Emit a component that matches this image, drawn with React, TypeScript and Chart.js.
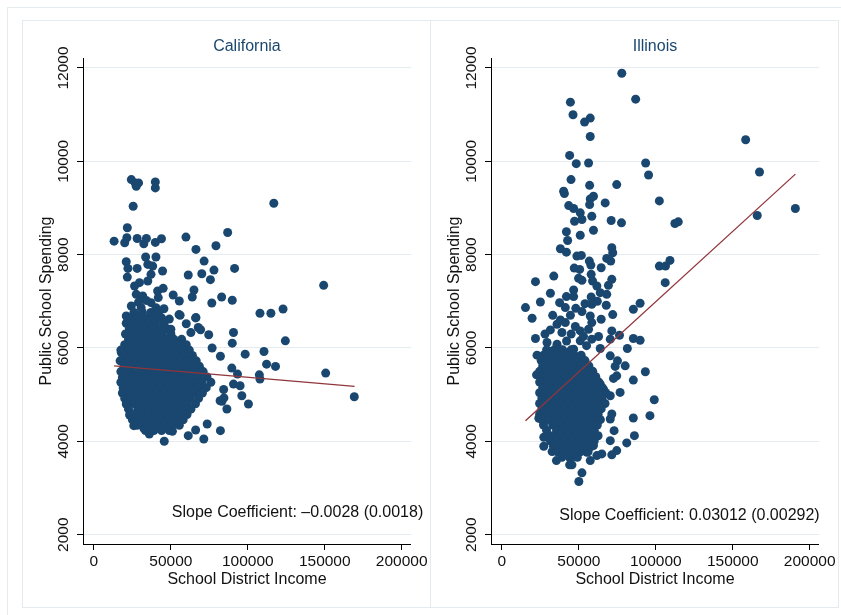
import React, { useEffect, useRef } from "react";
import { Chart, registerables } from "chart.js";

Chart.register(...registerables);

// ---------- data ----------
const xTicks = [0, 50000, 100000, 150000, 200000];
const yTicks = [2000, 4000, 6000, 8000, 10000, 12000];
const panelTitles = ["California", "Illinois"];
const slopeNotes = [
  "Slope Coefficient: \u20130.0028 (0.0018)",
  "Slope Coefficient: 0.03012 (0.00292)",
];
const xTitle = "School District Income";
const yTitle = "Public School Spending";

// income in thousands of dollars, spending in dollars
const caScattered: [number, number][] = [
  [24.3, 9608], [26.8, 9537], [29, 9537], [27.5, 9465], [39.9, 9559], [39.9, 9430], [25.5, 9037], [116.9, 9101],
  [21.7, 8576], [13.1, 8289], [20, 8255], [21.4, 8362], [28.1, 8347], [32.4, 8234], [34.1, 8347], [39.9, 8262],
  [43.9, 8340], [59.8, 8376], [66.3, 8112], [79.3, 8190], [86.9, 8475],
  [33.6, 7949], [40.3, 7949], [21, 7849], [22.1, 7706], [28.1, 7706], [35, 7791], [38.2, 7755], [44.6, 7649],
  [21.7, 7520], [37.1, 7578], [61.3, 7563], [71.6, 7862], [70.1, 7592], [78, 7670], [75.7, 7464], [91.4, 7706],
  [149.3, 7343], [26.4, 7328], [29.6, 7400], [35, 7436], [41.4, 7222], [45, 7278], [27.5, 7150], [31.7, 7114],
  [37.1, 6972], [41.8, 7080], [51.5, 7136], [55.5, 7008], [65, 7242], [63.9, 7093], [76.6, 6965], [83, 7093],
  [89.9, 7022], [24.3, 6900], [21, 6686], [30.7, 6865], [40.3, 6865], [56, 6701], [66.3, 6652], [107.9, 6744],
  [115, 6744], [122.9, 6836], [26.4, 6600], [31, 6580], [36, 6620], [40, 6590], [50, 6402], [67.8, 6438],
  [55.3, 6716], [66.1, 6645], [69.3, 6392], [74.6, 6285], [76.8, 6000], [82.2, 5822], [89.6, 5570],
  [84.3, 5110], [83.2, 4860], [90.7, 6332], [89.9, 6103], [124.4, 6153], [98.3, 5868], [110.5, 5925],
  [112.2, 5654], [118, 5605], [107.5, 5425], [107.9, 5334], [150.6, 5462], [169.2, 4955], [93.3, 5441],
  [90.7, 5227], [95, 5191], [96.1, 4977], [100.4, 4800], [86.4, 4693], [82.2, 4229], [71.4, 4051], [61.3, 4122],
  [45.7, 4002], [36, 4158], [32.4, 4280], [25.9, 4336], [23.2, 4564], [21, 4800], [18.5, 5370], [17.8, 5904],
  [51, 4216], [66.1, 4244], [73.6, 4372], [82, 4870], [84.5, 4930], [29, 6980], [34, 7020], [45.5, 6840],
  [49, 6620], [60, 6520], [63, 6330],
];

// dense core of the California cloud: [spending, incomes]
const caCoreRows: [number, number[]][] = [
  [6760, [26, 31.5, 37, 42]],
  [6645, [23.5, 28, 33, 38.5, 44]],
  [6530, [21, 25.5, 30.5, 35, 40, 45.5]],
  [6415, [23, 28, 32.5, 37.5, 42.5, 47.5]],
  [6300, [20.5, 25, 30, 35, 39.5, 44.5, 50]],
  [6185, [22.5, 27.5, 32, 37, 42, 47, 52, 57]],
  [6070, [20, 25, 29.5, 34.5, 39.5, 44, 49.5, 54.5, 60]],
  [5955, [17.5, 22, 27, 32, 36.5, 41.5, 46.5, 51.5, 56.5, 62]],
  [5840, [19.5, 24.5, 29, 34, 39, 44, 48.5, 53.5, 58.5, 64]],
  [5725, [17, 22, 26.5, 31.5, 36.5, 41, 46, 51, 56, 61, 66.5]],
  [5610, [19.5, 24, 29, 34, 38.5, 43.5, 48.5, 53.5, 58, 63, 68.5]],
  [5495, [17.5, 22, 26.5, 31.5, 36, 41, 46, 51, 55.5, 60.5, 65.5, 71]],
  [5380, [19, 24, 28.5, 33.5, 38.5, 43, 48, 53, 58, 63, 68, 73.5]],
  [5265, [17.5, 21.5, 26.5, 31, 36, 41, 45.5, 50.5, 55.5, 60.5, 65, 70, 76]],
  [5150, [19, 23.5, 28.5, 33.5, 38, 43, 48, 53, 57.5, 62.5, 67.5, 73]],
  [5035, [18.5, 21.5, 26, 31, 35.5, 40.5, 45.5, 50.5, 55, 60, 65, 70.5]],
  [4920, [20, 24, 28.5, 33.5, 38.5, 43, 48, 53, 58, 62.5, 68]],
  [4805, [21.5, 26.5, 31, 36, 41, 45.5, 50.5, 55.5, 60.5, 66]],
  [4690, [22.5, 28.5, 33.5, 38.5, 43.5, 48, 53, 58, 63]],
  [4575, [23.5, 26, 31, 35.5, 40.5, 45.5, 50.5, 55.5, 60.5]],
  [4460, [25, 28.5, 33.5, 38.5, 43, 48, 53, 58]],
  [4345, [28, 31.5, 36, 41, 46, 51, 55.5]],
  [4230, [33.5, 39, 44, 49]],
];

const ilScattered: [number, number][] = [
  [77.9, 11888], [86.9, 11332], [44.5, 11268], [46.2, 10997], [53.7, 10841], [57.4, 10926], [57.4, 10533],
  [158.4, 10462], [44, 10127], [48.3, 9950], [56.3, 9964], [93.4, 9964], [95.3, 9708], [167.4, 9772],
  [44.9, 9608], [57, 9486], [74.6, 9501], [40.1, 9358], [40.6, 9309], [57.4, 9195], [59.5, 9251], [57, 9073],
  [67.1, 9109], [43.4, 9052], [46.6, 8988], [102.3, 9152], [50.9, 8896], [58.4, 8824], [52, 8753], [47.2, 8717],
  [71, 8732], [77.7, 8682], [190.7, 8988], [165.9, 8838], [112.4, 8667], [114.6, 8703], [41.9, 8490],
  [50.9, 8417], [59.5, 8524], [42.7, 8304], [38, 8127], [41.9, 8054], [71.4, 8148], [72, 8041], [48.7, 7969],
  [51.6, 7984], [56.8, 7862], [57.8, 7776], [68.1, 7919], [70.7, 7862], [47, 7712], [50.5, 7684], [64.5, 7720],
  [102.3, 7755], [106.3, 7755], [109.2, 7877], [33.7, 7541], [21.8, 7421], [49.8, 7492], [52, 7450],
  [58, 7578], [58.9, 7435], [71.4, 7471], [69.2, 7343], [106.1, 7400], [31.5, 7172], [46.6, 7242],
  [61.7, 7328], [63.9, 7186], [68.1, 7150], [41.9, 7101], [46.6, 7101], [58, 7093],
  [15.3, 6866], [25, 6986], [19.6, 6637], [37.5, 6972], [41.2, 6866], [44.5, 6701], [58.4, 6936], [67.8, 6915],
  [52, 6780], [57.4, 6686], [72, 6716], [85.4, 6830], [89.8, 6958], [64.5, 6616], [35.8, 6509], [41.2, 6545],
  [47.7, 6460], [58.4, 6545], [31.5, 6388], [39, 6332], [50.9, 6366], [56.3, 6402], [71.4, 6366], [76.4, 6274],
  [21.8, 6204], [85.4, 6204], [89.8, 6167], [29.3, 6118], [35.8, 6082], [50.9, 6153], [58.4, 6189],
  [62.8, 6246], [70.4, 6189], [81.5, 5990], [22.8, 5847], [30.4, 5938], [36.9, 5975], [46.6, 5975],
  [63.9, 5990], [70.4, 5832], [75.1, 5725], [80.1, 5618], [73.6, 5605], [93.2, 5490], [22.5, 5425],
  [74.6, 5404], [72.5, 5349], [85.4, 5312], [63.9, 5227], [66, 5120], [70.4, 4977], [76.8, 5049], [99, 4891],
  [24, 4494], [85.4, 4500], [96.2, 4550], [71.4, 4586], [70.4, 4479], [86.1, 4122], [81.1, 3966], [72.9, 4229],
  [70.4, 4015], [74.6, 3801], [71.4, 3710], [27.2, 4088], [27.2, 3895], [32.6, 3780], [35.4, 3588],
  [44.5, 3639], [44, 3496], [45.5, 3496], [52, 3325], [50, 3139], [57.4, 3588], [61.7, 3695], [64.9, 3731],
  [55.2, 3767], [59.5, 3908], [33, 6700], [38, 6600], [45, 6300], [53, 6250], [42, 6150], [55, 6050],
  [28, 6300], [48, 6850], [54, 6950], [62, 7000],
];

const ilCoreRows: [number, number[]][] = [
  [5960, [29, 34, 39.5, 45]],
  [5845, [27, 31.5, 36.5, 41.5, 47, 51.5]],
  [5730, [25.5, 29, 34, 39, 44, 49, 54]],
  [5615, [26.5, 31.5, 36.5, 41.5, 46.5, 51.5, 56.5]],
  [5500, [24.5, 29, 34, 39, 44, 49, 54, 59]],
  [5385, [26.5, 31.5, 36, 41, 46, 51, 56, 61]],
  [5270, [24.5, 29, 33.5, 38.5, 43.5, 48.5, 53.5, 58.5, 63]],
  [5155, [26.5, 31, 36, 41, 46, 51, 56, 60.5, 65]],
  [5040, [24.5, 28.5, 33.5, 38.5, 43.5, 48.5, 53, 58, 63, 67.5]],
  [4925, [26, 31, 36, 40.5, 45.5, 50.5, 55.5, 60.5, 65]],
  [4810, [24.5, 28.5, 33.5, 38.5, 43, 48, 53, 58, 62.5, 67]],
  [4695, [26, 31, 35.5, 40.5, 45.5, 50.5, 55.5, 60, 64.5]],
  [4580, [24.5, 28.5, 33, 38, 43, 48, 53, 57.5, 62.5]],
  [4465, [26, 30.5, 35.5, 40.5, 45.5, 50, 55, 60, 64]],
  [4350, [27, 33, 38, 43, 47.5, 52.5, 57.5, 62]],
  [4235, [29, 35.5, 40.5, 45, 50, 55, 60]],
  [4120, [30.5, 33, 38, 43, 48, 52.5, 57.5, 62.5]],
  [4005, [31.5, 35.5, 40.5, 45.5, 50.5, 55, 60]],
  [3890, [33.5, 38, 43, 48, 53, 58]],
  [3775, [36, 40.5, 45.5, 51, 56]],
  [3660, [39, 44, 49]],
];

// fitted regression lines: [income (k), spending]
const caFit: [number, number][] = [[13.1, 5618], [169.4, 5178]];
const ilFit: [number, number][] = [[15.3, 4443], [190.7, 9726]];

// where the slope note ends (data coords: income k, spending)
const caNoteAt: [number, number] = [214, 2465];
const ilNoteAt: [number, number] = [206.5, 2415];

// ---------- styling ----------
const FONT = "'Liberation Sans', Arial, Helvetica, sans-serif";
const NAVY = "#1a476f";
const MAROON = "#90353b";
const GRID = "#e4ecef";
const FRAME = "#e3ebee";
const INK = "#111111";
const CANVAS_W = 408;
const CANVAS_H = 587;

const toPoints = (pairs: [number, number][]) => pairs.map(([x, y]) => ({ x: x * 1000, y }));
const rowsToPairs = (rows: [number, number[]][]) => {
  const out: [number, number][] = [];
  rows.forEach(([y, xs]) => xs.forEach((x) => out.push([x, y])));
  return out;
};

const panelText = {
  id: "panelText",
  afterDraw(chart: any, _args: any, opts: any) {
    const { ctx, chartArea, scales } = chart;
    ctx.save();
    ctx.font = `16px ${FONT}`;
    ctx.textBaseline = "middle";
    ctx.fillStyle = NAVY;
    ctx.textAlign = "center";
    ctx.fillText(opts.title, (chartArea.left + chartArea.right) / 2, 27);
    ctx.fillStyle = INK;
    ctx.textAlign = "right";
    ctx.fillText(
      opts.note,
      scales.x.getPixelForValue(opts.noteAt[0] * 1000),
      scales.y.getPixelForValue(opts.noteAt[1])
    );
    ctx.restore();
  },
};

function Panel(props: {
  title: string;
  note: string;
  noteAt: [number, number];
  points: [number, number][];
  fit: [number, number][];
}) {
  const ref = useRef<HTMLCanvasElement | null>(null);
  useEffect(() => {
    if (!ref.current) return;
    const chart = new Chart(ref.current, {
      type: "scatter",
      data: {
        datasets: [
          {
            type: "line",
            data: toPoints(props.fit),
            borderColor: MAROON,
            borderWidth: 1.3,
            pointRadius: 0,
            fill: false,
            tension: 0,
            order: 0,
          } as any,
          {
            data: toPoints(props.points),
            backgroundColor: NAVY,
            borderWidth: 0,
            pointRadius: 4.5,
            order: 1,
          },
        ],
      },
      options: {
        animation: false,
        responsive: false,
        devicePixelRatio: 1,
        layout: { padding: { top: 38, right: 16, left: 0, bottom: 0 } },
        plugins: {
          legend: { display: false },
          tooltip: { enabled: false },
          panelText: { title: props.title, note: props.note, noteAt: props.noteAt },
        } as any,
        scales: {
          x: {
            type: "linear",
            min: -7100,
            max: 206000,
            afterBuildTicks: (s: any) => {
              s.ticks = xTicks.map((v) => ({ value: v }));
            },
            afterFit: (s: any) => {
              s.height = 63;
            },
            grid: { drawOnChartArea: false, tickLength: 6, tickColor: "#000", tickWidth: 1 },
            border: { color: "#000", width: 1 },
            ticks: {
              autoSkip: false,
              maxRotation: 0,
              padding: 2,
              color: INK,
              font: { size: 15.5, family: FONT },
              callback: (v: any) => String(v),
            },
            title: {
              display: true,
              text: xTitle,
              color: INK,
              font: { size: 16, family: FONT },
              padding: { top: 0, bottom: 17.5 },
            },
          },
          y: {
            type: "linear",
            min: 1800,
            max: 12214,
            afterBuildTicks: (s: any) => {
              s.ticks = yTicks.map((v) => ({ value: v }));
            },
            afterFit: (s: any) => {
              s.width = 61;
            },
            grid: { color: GRID, tickLength: 6, tickColor: "#000", tickWidth: 1 },
            border: { color: "#000", width: 1 },
            ticks: {
              autoSkip: false,
              minRotation: 90,
              maxRotation: 90,
              crossAlign: "center",
              padding: -8,
              color: INK,
              font: { size: 15.5, family: FONT },
              callback: (v: any) => String(v),
            },
            title: {
              display: true,
              text: yTitle,
              color: INK,
              font: { size: 16, family: FONT },
              padding: { top: 15, bottom: 0 },
            },
          },
        },
      },
      plugins: [panelText as any],
    });
    return () => chart.destroy();
  }, []);
  return <canvas ref={ref} width={CANVAS_W} height={CANVAS_H} style={{ width: CANVAS_W, height: CANVAS_H, display: "block" }} />;
}

export default function App() {
  const caPoints = [...caScattered, ...rowsToPairs(caCoreRows)];
  const ilPoints = [...ilScattered, ...rowsToPairs(ilCoreRows)];
  const abs = (l: number, t: number, w: number, h: number): React.CSSProperties => ({
    position: "absolute",
    left: l,
    top: t,
    width: w,
    height: h,
    boxSizing: "border-box",
  });
  return (
    <div style={{ position: "absolute", left: 0, top: 0, width: 841, height: 615, overflow: "hidden", background: "#fff" }}>
      <div style={{ ...abs(7, 7, 860, 640), border: `1px solid ${FRAME}` }} />
      <div style={{ ...abs(22, 20, 409, 588), border: `1px solid ${FRAME}` }} />
      <div style={{ ...abs(430, 20, 409, 588), border: `1px solid ${FRAME}` }} />
      <div style={abs(22, 20, CANVAS_W, CANVAS_H)}>
        <Panel title={panelTitles[0]} note={slopeNotes[0]} noteAt={caNoteAt} points={caPoints} fit={caFit} />
      </div>
      <div style={abs(430, 20, CANVAS_W, CANVAS_H)}>
        <Panel title={panelTitles[1]} note={slopeNotes[1]} noteAt={ilNoteAt} points={ilPoints} fit={ilFit} />
      </div>
    </div>
  );
}
